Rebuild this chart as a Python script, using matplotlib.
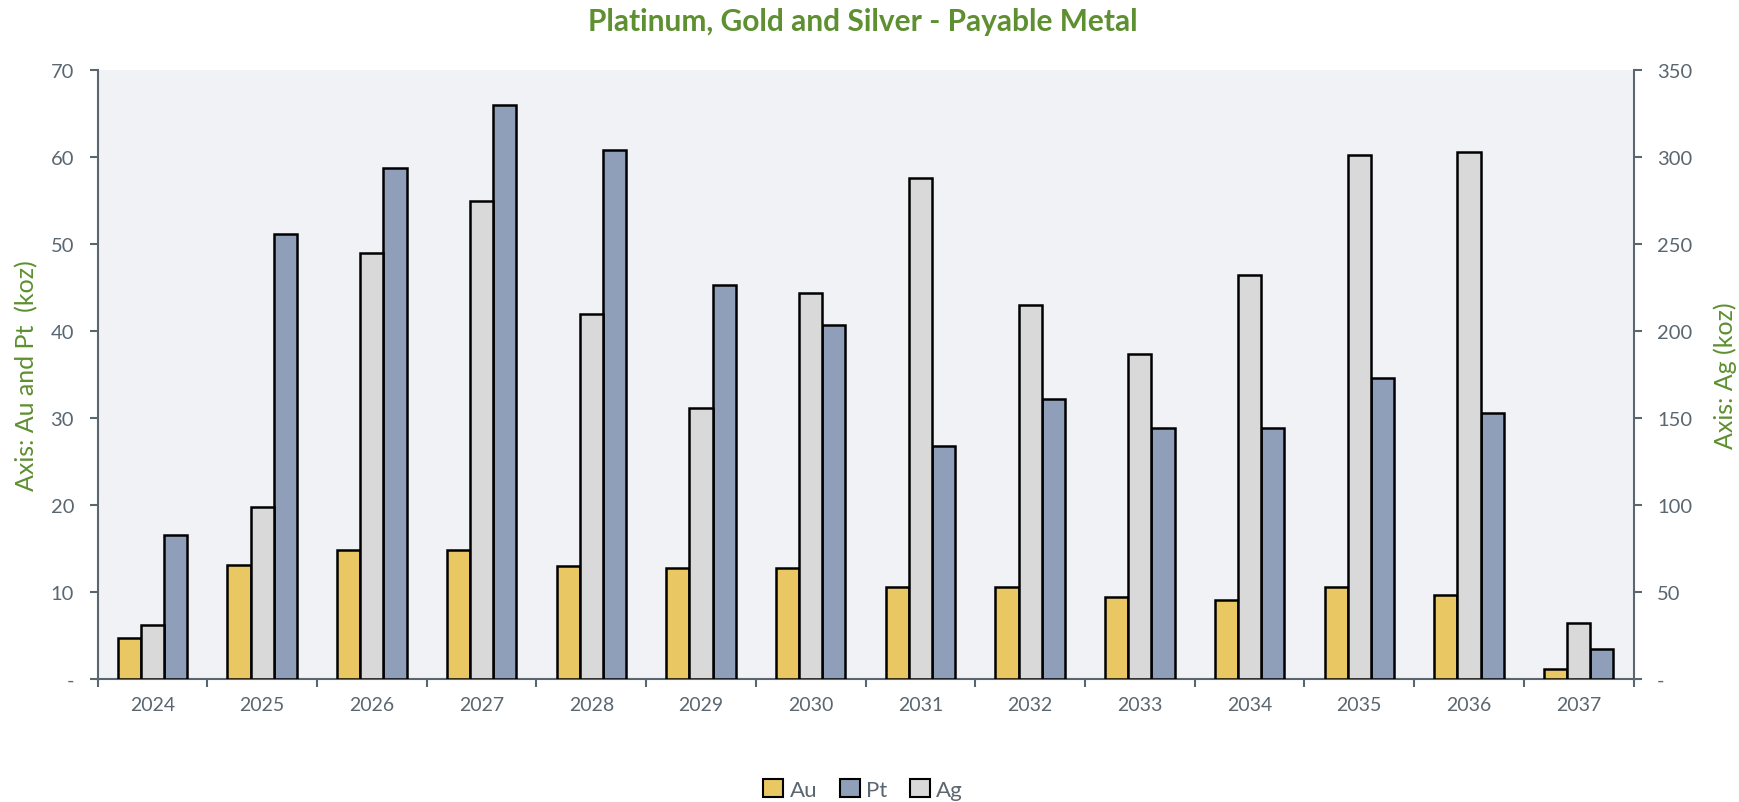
import matplotlib.pyplot as plt
import numpy as np
from matplotlib.patches import Patch

# Payable metal by year
years = ['2024', '2025', '2026', '2027', '2028', '2029', '2030',
         '2031', '2032', '2033', '2034', '2035', '2036', '2037']
au_koz = [4.7, 13.1, 14.8, 14.8, 13.0, 12.7, 12.7, 10.6, 10.6, 9.4, 9.1, 10.6, 9.6, 1.1]
pt_koz = [16.5, 51.1, 58.7, 65.9, 60.8, 45.3, 40.7, 26.8, 32.2, 28.8, 28.8, 34.6, 30.6, 3.5]
ag_koz = [31.0, 99.0, 244.7, 274.3, 209.5, 155.5, 221.5, 287.5, 215.0, 186.5, 232.0, 300.8, 302.5, 32.2]

left_ticks = [0, 10, 20, 30, 40, 50, 60, 70]
right_ticks = [0, 50, 100, 150, 200, 250, 300, 350]

au_color = '#E9C763'
pt_color = '#8F9FB9'
ag_color = '#D9D9D9'
axis_color = '#5A6670'
green = '#5E8F30'

plt.rcParams['font.family'] = ['Lato', 'DejaVu Sans']

fig = plt.figure(figsize=(17.4, 8.03), dpi=100)
ax = fig.add_axes([0.0561, 0.1532, 0.8827, 0.7588])
ax2 = ax.twinx()

x = np.arange(len(years))
w = 0.211

ax.bar(x - w, au_koz, w, color=au_color, edgecolor='black', linewidth=1.8, zorder=3)
ax2.bar(x, ag_koz, w, color=ag_color, edgecolor='black', linewidth=1.8, zorder=3)
ax.bar(x + w, pt_koz, w, color=pt_color, edgecolor='black', linewidth=1.8, zorder=3)

ax.set_xlim(-0.5, len(years) - 0.5)
ax.set_ylim(0, 70)
ax2.set_ylim(0, 350)
ax.set_facecolor('#F0F2F6')

# category ticks sit on the group boundaries, labels in the middle
ax.set_xticks(np.arange(len(years) + 1) - 0.5)
ax.set_xticklabels([])
ax.set_xticks(x, minor=True)
ax.set_xticklabels(years, minor=True)
ax.tick_params(axis='x', which='major', length=6, width=1.5, color=axis_color, direction='out')
ax.tick_params(axis='x', which='minor', length=0, pad=12, labelsize=14, labelcolor=axis_color)

ax.set_yticks(left_ticks)
ax.set_yticklabels(['-' if t == 0 else str(t) for t in left_ticks])
ax2.set_yticks(right_ticks)
ax2.set_yticklabels(['-' if t == 0 else str(t) for t in right_ticks])
ax.tick_params(axis='y', length=6, width=1.5, color=axis_color, labelsize=14.5,
               labelcolor=axis_color, pad=11)
ax2.tick_params(axis='y', length=6, width=1.5, color=axis_color, labelsize=14.5,
                labelcolor=axis_color, pad=11)

for a in (ax, ax2):
    a.spines['top'].set_visible(False)
    for side in ('left', 'right', 'bottom'):
        a.spines[side].set_color(axis_color)
        a.spines[side].set_linewidth(1.5)
ax.spines['right'].set_visible(False)
ax2.spines['left'].set_visible(False)
ax2.spines['bottom'].set_visible(False)

ax.set_ylabel('Axis: Au and Pt  (koz)', color=green, fontsize=18, labelpad=9)
ax2.set_ylabel('Axis: Ag (koz)', color=green, fontsize=18, labelpad=15)

fig.suptitle('Platinum, Gold and Silver - Payable Metal', x=0.496, y=0.99,
             color=green, fontsize=21.5, fontweight='bold')

handles = [Patch(facecolor=au_color, edgecolor='black', linewidth=1.5, label='Au'),
           Patch(facecolor=pt_color, edgecolor='black', linewidth=1.5, label='Pt'),
           Patch(facecolor=ag_color, edgecolor='black', linewidth=1.5, label='Ag')]
leg = fig.legend(handles=handles, loc='center', bbox_to_anchor=(0.496, 0.016), ncol=3,
                 frameon=False, fontsize=16, handlelength=0.9, handleheight=0.9,
                 handletextpad=0.3, columnspacing=1.0)
for t in leg.get_texts():
    t.set_color(axis_color)

fig.savefig('out.png', dpi=100)
